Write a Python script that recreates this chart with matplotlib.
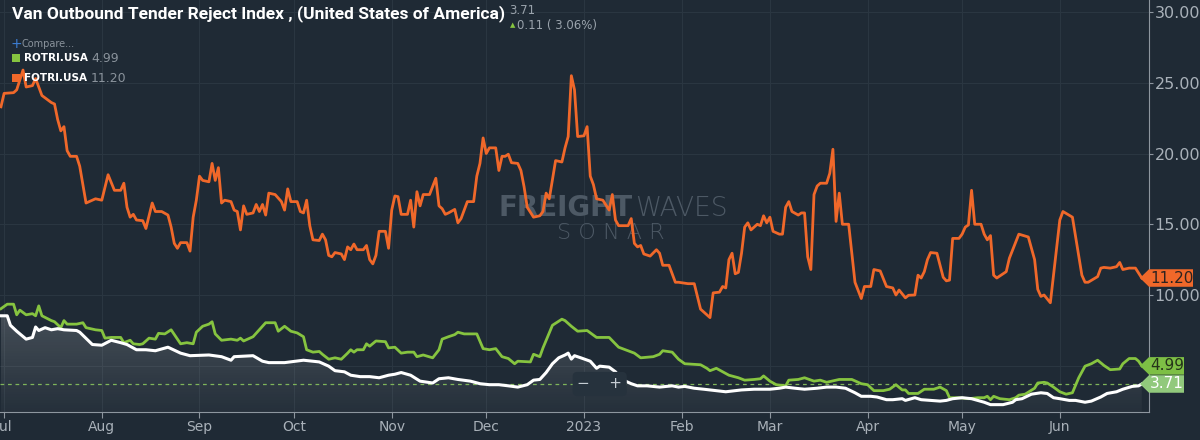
import numpy as np
import pandas as pd
import matplotlib
matplotlib.use("Agg")
import matplotlib.pyplot as plt
import matplotlib.dates as mdates
from matplotlib.patches import Polygon, Rectangle

# data: day offsets from 2022-07-01 and index values
fotri_days = [-1, 0, 3, 4, 5, 6, 7, 9, 10, 11, 12, 15, 16, 17, 18, 19, 20, 21, 23, 24, 26, 27, 29, 31,
              33, 35, 37, 38, 39, 40, 41, 42, 44, 45, 47, 48, 50, 52, 53, 54, 55, 56, 58, 59, 60, 61,
              62, 63, 65, 66, 67, 68, 69, 70, 72, 73, 74, 75, 76, 77, 79, 80, 81, 82, 83, 84, 86, 88,
              89, 90, 91, 93, 94, 95, 96, 97, 98, 100, 101, 102, 103, 104, 105, 107, 108, 109, 110,
              111, 112, 114, 115, 116, 117, 118, 119, 121, 122, 123, 124, 125, 126, 128, 129, 130,
              131, 132, 133, 135, 137, 138, 139, 140, 141, 143, 144, 145, 147, 149, 150, 151, 152,
              153, 154, 156, 157, 158, 159, 160, 161, 163, 164, 165, 166, 168, 170, 171, 172, 173,
              175, 177, 178, 179, 180, 181, 182, 184, 185, 186, 187, 188, 190, 192, 193, 194, 195,
              198, 199, 200, 201, 202, 203, 205, 207, 208, 209, 211, 213, 214, 217, 219, 221, 224,
              225, 227, 228, 229, 230, 231, 232, 233, 234, 235, 236, 237, 239, 240, 241, 242, 243,
              244, 246, 247, 248, 249, 250, 252, 253, 254, 255, 256, 257, 258, 259, 261, 262, 263,
              264, 265, 266, 268, 270, 272, 273, 275, 276, 278, 280, 282, 283, 284, 286, 287, 289,
              290, 291, 292, 293, 294, 296, 298, 299, 300, 301, 303, 304, 305, 306, 307, 308, 310,
              311, 312, 313, 314, 315, 318, 319, 322, 325, 327, 328, 329, 330, 332, 335, 336, 339,
              342, 343, 344, 347, 348, 349, 351, 353, 354, 355, 357, 359, 361]
fotri_vals = [23.3, 24.25, 24.3, 24.5, 25.2, 25.9, 24.7, 24.8, 25.3, 24.7, 24.1, 23.6, 23.5, 22.4,
              21.6, 21.9, 20.2, 19.8, 19.8, 19.1, 16.5, 16.6, 16.8, 16.7, 18.5, 17.4, 17.4, 17.9,
              16.2, 15.5, 15.7, 15.3, 15.25, 14.7, 16.5, 15.9, 15.9, 15.65, 14.8, 13.65, 13.3, 13.7,
              13.7, 13.1, 15.5, 16.7, 18.4, 18.1, 18.0, 19.3, 18.1, 19.0, 16.5, 16.7, 16.6, 16.0,
              15.9, 14.6, 16.3, 15.7, 15.8, 16.4, 15.9, 16.4, 15.65, 17.2, 17.1, 16.6, 16.0, 17.5,
              16.6, 16.6, 15.9, 15.8, 16.7, 14.9, 13.9, 13.85, 14.3, 13.9, 12.8, 12.7, 13.0, 12.9,
              12.5, 13.4, 13.2, 13.6, 13.2, 13.2, 13.5, 12.5, 12.2, 12.8, 14.5, 14.5, 13.3, 16.0,
              17.0, 16.95, 15.7, 15.7, 16.7, 14.8, 17.3, 16.3, 17.1, 17.1, 18.25, 16.3, 16.1, 15.7,
              15.8, 16.05, 15.1, 15.4, 16.6, 16.6, 18.4, 19.3, 21.1, 20.0, 20.4, 20.4, 18.8, 19.8,
              19.8, 19.95, 19.35, 19.3, 18.8, 17.65, 16.2, 15.5, 15.6, 15.9, 17.2, 16.8, 19.5, 19.4,
              20.4, 21.2, 25.5, 24.5, 21.2, 21.25, 21.9, 18.4, 17.8, 16.8, 16.7, 16.0, 17.1, 15.3,
              14.9, 14.9, 15.4, 13.65, 13.4, 13.5, 12.9, 12.75, 13.2, 12.95, 12.1, 12.1, 10.9, 10.9,
              10.8, 10.8, 9.0, 8.4, 10.15, 10.2, 10.6, 10.5, 12.5, 12.95, 11.5, 11.6, 12.95, 14.8,
              15.1, 14.6, 15.0, 14.9, 15.6, 15.1, 15.5, 14.5, 14.3, 14.3, 16.2, 16.6, 15.9, 15.65,
              15.8, 15.8, 12.7, 11.8, 17.1, 17.7, 17.9, 17.9, 18.6, 20.3, 15.2, 17.2, 15.0, 15.0,
              10.9, 9.75, 10.6, 10.6, 11.8, 11.7, 10.6, 10.5, 10.0, 10.35, 9.8, 9.98, 10.0, 11.4,
              11.2, 11.65, 12.5, 13.0, 12.95, 11.25, 11.0, 11.05, 14.0, 14.0, 14.3, 14.8, 14.95,
              17.4, 15.0, 15.0, 14.3, 13.9, 14.2, 11.4, 11.2, 11.65, 12.6, 14.3, 14.1, 12.5, 10.4,
              9.9, 10.0, 9.45, 15.3, 15.9, 15.5, 11.4, 10.9, 10.9, 11.3, 11.9, 11.95, 11.9, 12.0,
              12.3, 11.8, 11.9, 11.9, 11.2]

rotri_days = [-1, 1, 3, 4, 5, 7, 9, 10, 11, 12, 15, 16, 18, 19, 20, 23, 25, 26, 29, 31, 32, 34, 37,
              38, 40, 41, 43, 44, 46, 48, 49, 51, 53, 56, 58, 60, 61, 63, 65, 66, 67, 69, 72, 74, 75,
              76, 79, 81, 83, 86, 87, 89, 91, 93, 95, 96, 98, 100, 101, 103, 105, 107, 109, 110, 111,
              112, 114, 115, 116, 118, 121, 122, 124, 126, 128, 130, 131, 133, 136, 138, 139, 141,
              143, 144, 146, 148, 150, 152, 154, 156, 158, 160, 162, 163, 167, 168, 170, 171, 174,
              177, 178, 180, 182, 185, 188, 192, 195, 198, 200, 202, 206, 208, 209, 212, 214, 216,
              221, 223, 224, 226, 230, 233, 235, 238, 240, 241, 243, 245, 248, 249, 252, 254, 257,
              259, 261, 265, 269, 272, 274, 276, 279, 281, 283, 285, 286, 287, 290, 292, 295, 297,
              299, 300, 303, 306, 309, 311, 312, 313, 314, 316, 319, 321, 322, 324, 327, 328, 330,
              331, 333, 335, 337, 339, 341, 343, 345, 347, 349, 351, 354, 355, 357, 359, 360, 361]
rotri_vals = [9.03, 9.35, 9.35, 8.6, 8.93, 8.6, 8.68, 8.53, 9.23, 8.53, 8.19, 8.11, 7.69, 8.19, 7.94,
              7.94, 8.04, 7.69, 7.54, 7.49, 6.95, 7.0, 7.0, 6.63, 6.8, 6.55, 6.5, 6.55, 6.95, 6.88,
              7.29, 7.25, 7.54, 6.55, 6.63, 6.55, 7.37, 7.79, 7.94, 8.11, 7.25, 6.8, 6.88, 6.8, 6.95,
              6.75, 7.05, 7.54, 8.04, 8.04, 7.44, 7.79, 7.44, 7.32, 7.05, 6.13, 5.96, 6.01, 5.81,
              5.46, 5.56, 5.46, 5.89, 6.13, 5.96, 6.13, 6.13, 6.55, 6.38, 6.75, 6.7, 6.26, 6.31,
              5.89, 5.96, 5.96, 5.64, 5.76, 5.56, 6.13, 6.88, 7.05, 7.2, 7.37, 7.25, 7.25, 7.25,
              6.21, 6.13, 6.21, 5.64, 5.51, 5.14, 5.32, 5.27, 5.81, 5.64, 6.26, 7.86, 8.29, 8.19,
              7.79, 7.44, 7.49, 7.0, 7.0, 6.31, 6.06, 5.89, 5.56, 5.64, 5.81, 6.06, 5.96, 5.46,
              5.14, 5.07, 4.82, 4.65, 4.82, 4.33, 4.15, 3.98, 4.03, 4.08, 4.28, 3.91, 3.66, 3.58,
              3.98, 4.03, 4.15, 3.91, 3.98, 3.83, 4.03, 4.03, 3.73, 3.66, 3.24, 3.24, 3.34, 3.66,
              3.29, 3.29, 3.04, 3.04, 3.34, 3.34, 3.49, 3.24, 2.74, 2.74, 2.67, 2.74, 2.74, 2.84,
              2.6, 2.84, 2.67, 2.6, 2.74, 2.92, 2.99, 3.41, 3.78, 3.83, 3.78, 3.49, 3.16, 2.99,
              3.09, 4.15, 4.97, 5.14, 5.39, 5.02, 4.72, 4.77, 5.14, 5.51, 5.51, 5.32, 4.99]

votri_days = [-1, 1, 2, 4, 7, 9, 10, 11, 13, 15, 17, 19, 23, 24, 28, 31, 34, 37, 39, 42, 45, 48, 52,
              56, 59, 65, 69, 72, 73, 79, 82, 84, 89, 95, 100, 103, 105, 108, 110, 113, 116, 119,
              122, 124, 126, 129, 132, 136, 138, 141, 144, 148, 151, 154, 157, 160, 163, 166, 168,
              170, 172, 174, 176, 178, 179, 180, 181, 183, 186, 188, 189, 192, 194, 196, 199, 201,
              204, 208, 212, 214, 216, 219, 222, 229, 234, 238, 243, 246, 248, 251, 254, 258, 261,
              264, 267, 270, 272, 275, 277, 280, 282, 285, 286, 289, 291, 294, 297, 299, 301, 304,
              307, 311, 313, 317, 320, 321, 323, 326, 329, 331, 333, 335, 338, 340, 343, 345, 348,
              350, 353, 355, 358, 360, 361]
votri_vals = [8.53, 8.53, 7.86, 7.44, 6.88, 7.0, 7.74, 7.49, 7.69, 7.54, 7.62, 7.54, 7.49, 7.37,
              6.5, 6.45, 6.8, 6.63, 6.5, 6.13, 6.13, 6.06, 6.31, 5.89, 5.71, 5.76, 5.64, 5.39, 5.64,
              5.71, 5.32, 5.22, 5.22, 5.39, 5.27, 4.97, 4.65, 4.57, 4.33, 4.23, 4.23, 4.15, 4.33,
              4.4, 4.52, 4.33, 3.91, 3.78, 4.08, 4.15, 4.03, 3.91, 3.73, 3.66, 3.66, 3.58, 3.49,
              3.66, 3.98, 4.03, 4.52, 5.14, 5.56, 5.76, 5.89, 5.47, 5.71, 5.56, 5.32, 4.82, 4.97,
              4.9, 4.57, 4.03, 3.73, 3.58, 3.58, 3.49, 3.58, 3.49, 3.54, 3.41, 3.34, 3.16, 3.29,
              3.34, 3.34, 3.41, 3.49, 3.41, 3.34, 3.41, 3.49, 3.49, 3.41, 3.09, 2.84, 2.84, 2.79,
              2.6, 2.6, 2.67, 2.55, 2.74, 2.6, 2.55, 2.5, 2.55, 2.67, 2.74, 2.67, 2.42, 2.25, 2.25,
              2.42, 2.6, 2.67, 2.99, 3.09, 3.04, 2.74, 2.67, 2.55, 2.55, 2.42, 2.5, 2.79, 3.04,
              3.16, 3.34, 3.54, 3.58, 3.71]

start = pd.Timestamp("2022-07-01")
def to_dates(days):
    return start + pd.to_timedelta(days, unit="D")

fotri_x = to_dates(fotri_days)
rotri_x = to_dates(rotri_days)
votri_x = to_dates(votri_days)

BG = "#1f2a35"
ORANGE = "#f0682a"
GREEN = "#86c440"
GRID = "#2a3641"
TXT = "#a9b1b9"
WM = "#4d5965"

W, H = 1200, 440
fig = plt.figure(figsize=(12, 4.4), dpi=100, facecolor=BG)
ax = fig.add_axes([0, 1 - 412 / H, 1149 / W, 412 / H])
ax.set_facecolor(BG)

ymin, ymax = 1.73, 30.85
xmin = start + pd.Timedelta(days=-1.3)
xmax = start + pd.Timedelta(days=363.3)

# grid
for v in [5, 10, 15, 20, 25, 30]:
    ax.axhline(v, color=GRID, lw=0.8, zorder=0)
for m in pd.date_range("2022-07-01", "2023-06-01", freq="MS"):
    ax.axvline(m, color=GRID, lw=0.8, zorder=0)

# watermark
ax.text(0.551, 0.495, "FREIGHT", transform=ax.transAxes, ha="right", va="center",
        fontsize=20, fontweight="heavy", color=WM, zorder=1, family="DejaVu Sans")
ax.text(0.553, 0.495, "WAVES", transform=ax.transAxes, ha="left", va="center",
        fontsize=19, fontweight="ultralight", color=WM, zorder=1, family="DejaVu Sans")
ax.text(0.532, 0.434, "S O N A R", transform=ax.transAxes, ha="center", va="center",
        fontsize=16, fontweight="ultralight", color=WM, zorder=1, family="DejaVu Sans")

# gradient fill below main (white) series
fill = ax.fill_between(votri_x, votri_vals, ymin, facecolor="none", edgecolor="none")
grad = np.linspace(0.19, 0.03, 256).reshape(-1, 1)
rgba = np.ones((256, 1, 4))
rgba[..., 3] = grad
x0n, x1n = mdates.date2num(xmin), mdates.date2num(xmax)
im = ax.imshow(rgba, extent=[x0n, x1n, ymin, 9.6], aspect="auto", origin="upper", zorder=2)
im.set_clip_path(fill.get_paths()[0], transform=ax.transData)
ax.set_xlim(xmin, xmax)
ax.set_ylim(ymin, ymax)

ax.axhline(3.71, color="#7fb55a", lw=0.9, ls=(0, (3, 3)), zorder=2)

ax.plot(fotri_x, fotri_vals, color=ORANGE, lw=2, zorder=3)
ax.plot(rotri_x, rotri_vals, color=GREEN, lw=2, zorder=3)
ax.plot(votri_x, votri_vals, color="white", lw=2.2, zorder=4)

# axes styling
for s in ["top", "left"]:
    ax.spines[s].set_visible(False)
ax.spines["right"].set_color("#8d969f")
ax.spines["bottom"].set_color("#8d969f")
ax.yaxis.tick_right()
ax.set_yticks([10, 15, 20, 25, 30])
ax.set_yticklabels(["%.2f" % v for v in [10, 15, 20, 25, 30]])
ax.tick_params(axis="y", colors="#8d969f", labelcolor=TXT, labelsize=11.5, length=3, pad=1)
ax.xaxis.set_major_locator(mdates.MonthLocator())
ax.xaxis.set_major_formatter(plt.FuncFormatter(
    lambda x, p: mdates.num2date(x).strftime("%Y") if mdates.num2date(x).month == 1
    else mdates.num2date(x).strftime("%b")))
ax.tick_params(axis="x", colors="#8d969f", labelcolor=TXT, labelsize=10, length=4, pad=2)

# value flags on the right
def flag(v, label, face, tcolor, right):
    hw = 0.62
    x_tip = 1140 / W
    x_body = 1149 / W
    xr = right / W
    pts_data = [(x_tip, v), (x_body, v + hw), (xr, v + hw), (xr, v - hw), (x_body, v - hw)]
    ydisp = lambda yy: ax.transData.transform((0, yy))[1] / H
    pts = [(px, ydisp(py)) for px, py in pts_data]
    fig.patches.append(Polygon(pts, closed=True, transform=fig.transFigure,
                               facecolor=face, edgecolor="none", zorder=5))
    fig.text((x_body + xr) / 2 + 0.0005, ydisp(v), label, ha="center", va="center",
             fontsize=11, color=tcolor, zorder=6)

flag(11.2, "11.20", ORANGE, "#2d2320", 1193)
flag(4.99, "4.99", "#7dbf45", "#25331a", 1184)
flag(3.71, "3.71", "#91c97c", "white", 1184)

# zoom buttons
ax.text(mdates.date2num(start + pd.Timedelta(days=189)), 3.71, "\u2212    +",
        ha="center", va="center", fontsize=11, color="#c5ccd3", zorder=6,
        bbox=dict(boxstyle="round,pad=0.3", fc="#26323d", ec="none"))

# title and header texts
fig.text(12 / W, 1 - 5 / H, "Van Outbound Tender Reject Index , (United States of America)",
         ha="left", va="top", fontsize=12.5, fontweight="bold", color="white",
         family=["Roboto", "DejaVu Sans"])
fig.text(509 / W, 1 - 4 / H, "3.71", ha="left", va="top", fontsize=8.5, color="#9aa3ac")
fig.text(510 / W, 1 - 25 / H, "\u25b2", ha="left", va="center", fontsize=5, color=GREEN)
fig.text(517 / W, 1 - 25 / H, "0.11 ( 3.06%)", ha="left", va="center", fontsize=8.5, color="#9aa3ac")

fig.text(11 / W, 1 - 44 / H, "+", ha="left", va="center", fontsize=10, color="#3d7fd6")
fig.text(21 / W, 1 - 44 / H, "Compare...", ha="left", va="center", fontsize=7, color="#8a939c")
fig.patches.append(Rectangle((12 / W, 1 - 62 / H), 8 / W, 8 / H, transform=fig.transFigure,
                             facecolor=GREEN, edgecolor="none"))
fig.text(24 / W, 1 - 58 / H, "ROTRI.USA", ha="left", va="center", fontsize=7.5,
         fontweight="bold", color="white")
fig.text(91 / W, 1 - 58 / H, "4.99", ha="left", va="center", fontsize=9, color="#8a939c")
fig.patches.append(Rectangle((12 / W, 1 - 82 / H), 8 / W, 8 / H, transform=fig.transFigure,
                             facecolor=ORANGE, edgecolor="none"))
fig.text(24 / W, 1 - 78 / H, "FOTRI.USA", ha="left", va="center", fontsize=7.5,
         fontweight="bold", color="white")
fig.text(91 / W, 1 - 78 / H, "11.20", ha="left", va="center", fontsize=9, color="#8a939c")

fig.savefig("out.png", dpi=100, facecolor=BG)
